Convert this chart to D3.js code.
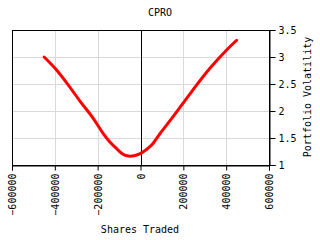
<!DOCTYPE html>
<html><head><meta charset="utf-8">
<script src="https://cdn.jsdelivr.net/npm/d3@7"></script>
<style>body{margin:0;background:#fff}text{font-family:"DejaVu Sans Mono",monospace;font-size:10px;fill:#000}</style>
</head><body>
<script>
const title = "CPRO";
const xLabel = "Shares Traded";
const yLabel = "Portfolio Volatility";
const xTicks = [-600000,-400000,-200000,0,200000,400000,600000];
const yTicks = [1,1.5,2,2.5,3,3.5];
const shares = [-450000,-399000,-337000,-282000,-220000,-174000,-142000,-111000,-85000,-64000,-40000,-18000,5000,25000,52000,91000,153000,239000,324000,402000,449000];
const volatility = [3.0,2.79,2.48,2.18,1.86,1.58,1.42,1.30,1.21,1.17,1.165,1.185,1.225,1.28,1.37,1.58,1.90,2.36,2.79,3.13,3.31];

const W=320,H=240, L=12, R=269, T=30, B=165;
const svg=d3.select("body").append("svg").attr("width",W).attr("height",H);
const x=d3.scaleLinear().domain([-600000,600000]).range([L,R]);
const y=d3.scaleLinear().domain([1,3.5]).range([B,T]);

// grid
svg.append("g").selectAll("line").data(xTicks).join("line")
 .attr("x1",d=>Math.round(x(d))+0.5).attr("x2",d=>Math.round(x(d))+0.5).attr("y1",T).attr("y2",B)
 .attr("stroke","#d9d9d9");
svg.append("g").selectAll("line").data(yTicks).join("line")
 .attr("y1",d=>Math.round(y(d))+0.5).attr("y2",d=>Math.round(y(d))+0.5).attr("x1",L).attr("x2",R)
 .attr("stroke","#d9d9d9");
// zero line
svg.append("line").attr("x1",Math.round(x(0))+0.5).attr("x2",Math.round(x(0))+0.5).attr("y1",T).attr("y2",B).attr("stroke","#000");
// frame
svg.append("rect").attr("x",L+0.5).attr("y",T+0.5).attr("width",R-L).attr("height",B-T).attr("fill","none").attr("stroke","#000");

// axes
const xa=svg.append("g").attr("transform",`translate(0,${B+0.5})`)
 .call(d3.axisBottom(x).tickValues(xTicks).tickFormat(d3.format("d")).tickSizeOuter(0).tickSize(5).tickPadding(3));
xa.selectAll("text").attr("transform","rotate(-90)").attr("text-anchor","end")
 .attr("x",-8).attr("y",0).attr("dy","0.35em").style("font-size","10px").style("font-family","DejaVu Sans Mono");
const ya=svg.append("g").attr("transform",`translate(${R+0.5},0)`)
 .call(d3.axisRight(y).tickValues(yTicks).tickFormat(d=>String(d)).tickSizeOuter(0).tickSize(6).tickPadding(3));
ya.selectAll("text").style("font-size","10px").style("font-family","DejaVu Sans Mono");
svg.selectAll(".tick line").attr("stroke","#000");
svg.selectAll(".domain").attr("stroke","#000");

// line
const data=shares.map((s,i)=>[s,volatility[i]]);
svg.append("path").datum(data).attr("fill","none").attr("stroke","#ff0000").attr("stroke-width",3)
 .attr("stroke-linejoin","round").attr("stroke-linecap","round")
 .attr("d",d3.line().x(d=>x(d[0])).y(d=>y(d[1])).curve(d3.curveCatmullRom));

// titles
svg.append("text").attr("x",160).attr("y",16).attr("text-anchor","middle").text(title);
svg.append("text").attr("x",140).attr("y",233).attr("text-anchor","middle").text(xLabel);
svg.append("text").attr("transform","translate(311,97) rotate(-90)").attr("text-anchor","middle").text(yLabel);
</script>
</body></html>
